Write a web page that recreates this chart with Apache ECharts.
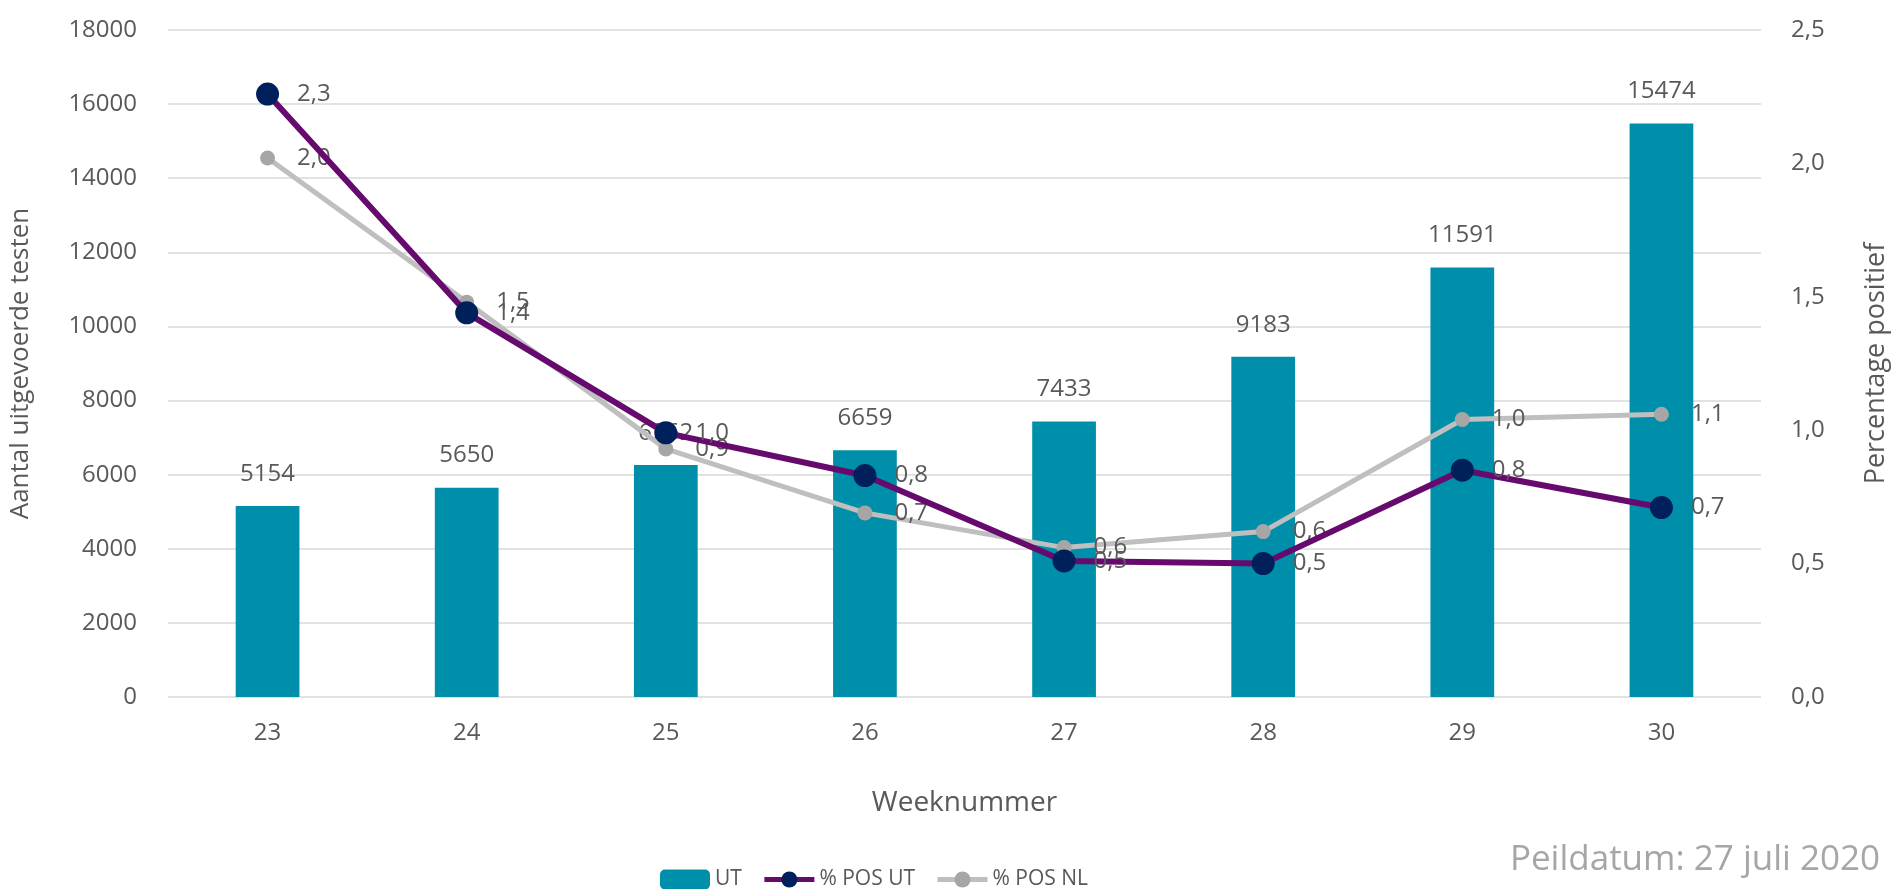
<!DOCTYPE html>
<html>
<head>
<meta charset="utf-8">
<title>Testen UT</title>
<script src="https://cdn.jsdelivr.net/npm/echarts@6/dist/echarts.min.js"></script>
<style>
  html, body { margin: 0; padding: 0; background: #fff; }
  #chart { width: 1898px; height: 889px; }
</style>
</head>
<body>
<div id="chart"></div>
<script>
// weeknummers en waarden
var weken = ['23', '24', '25', '26', '27', '28', '29', '30'];
var aantalTesten = [5154, 5650, 6262, 6659, 7433, 9183, 11591, 15474];
var posUT = [2.26, 1.44, 0.99, 0.83, 0.51, 0.50, 0.85, 0.71];
var posNL = [2.02, 1.48, 0.93, 0.69, 0.56, 0.62, 1.04, 1.06];

var tekstKleur = '#595959';
var lettertype = '"Open Sans", "Noto Sans", sans-serif';

function komma(v) {
  return Number(v).toFixed(1).replace('.', ',');
}

var chart = echarts.init(document.getElementById('chart'));

var option = {
  backgroundColor: '#fff',
  textStyle: { fontFamily: lettertype, color: tekstKleur },
  animation: false,
  grid: { left: 161, right: 120, top: 30, bottom: 192 },
  legend: {
    left: 655,
    top: 864,
    itemWidth: 50,
    itemHeight: 20,
    itemGap: 20,
    lineStyle: { width: 5 },
    textStyle: { fontSize: 21, color: tekstKleur, fontFamily: lettertype },
    data: ['UT', '% POS UT', '% POS NL']
  },
  graphic: [{
    type: 'text',
    right: 18,
    top: 843,
    style: {
      text: 'Peildatum: 27 juli 2020',
      fontSize: 35,
      fontFamily: lettertype,
      fill: '#a6a6a6'
    }
  }],
  xAxis: {
    type: 'category',
    data: weken,
    name: 'Weeknummer',
    nameLocation: 'middle',
    nameGap: 92,
    nameTextStyle: { fontSize: 28, color: tekstKleur },
    axisLine: { show: false },
    axisTick: { show: false },
    axisLabel: { fontSize: 24, color: tekstKleur, margin: 24 }
  },
  yAxis: [
    {
      type: 'value',
      min: 0,
      max: 18000,
      interval: 2000,
      name: 'Aantal uitgevoerde testen',
      nameLocation: 'middle',
      nameGap: 134,
      nameRotate: 90,
      nameTextStyle: { fontSize: 26, color: tekstKleur },
      axisLine: { show: false },
      axisTick: { show: false },
      axisLabel: {
        fontSize: 24,
        color: tekstKleur,
        margin: 31,
        formatter: function (v) { return String(v); }
      },
      splitLine: { lineStyle: { color: '#d9d9d9', width: 1.5 } }
    },
    {
      type: 'value',
      min: 0,
      max: 2.5,
      interval: 0.5,
      name: 'Percentage positief',
      nameLocation: 'middle',
      nameGap: 102,
      nameRotate: 90,
      nameTextStyle: { fontSize: 27, color: tekstKleur },
      axisLine: { show: false },
      axisTick: { show: false },
      axisLabel: { fontSize: 24, color: tekstKleur, margin: 30, formatter: komma },
      splitLine: { show: false }
    }
  ],
  series: [
    {
      name: 'UT',
      type: 'bar',
      data: aantalTesten,
      barWidth: '32%',
      itemStyle: { color: '#008fab' },
      label: {
        show: true,
        position: 'top',
        distance: 20,
        fontSize: 24,
        color: tekstKleur
      },
      z: 1
    },
    {
      name: '% POS NL',
      type: 'line',
      yAxisIndex: 1,
      data: posNL,
      symbol: 'circle',
      symbolSize: 15,
      lineStyle: { color: '#bfbfbf', width: 5 },
      itemStyle: { color: '#a6a6a6' },
      label: {
        show: true,
        position: 'right',
        distance: 22,
        fontSize: 24,
        color: tekstKleur,
        formatter: function (p) { return komma(p.value); }
      },
      z: 3
    },
    {
      name: '% POS UT',
      type: 'line',
      yAxisIndex: 1,
      data: posUT,
      symbol: 'circle',
      symbolSize: 23,
      lineStyle: { color: '#660a6e', width: 6 },
      itemStyle: { color: '#00205b' },
      label: {
        show: true,
        position: 'right',
        distance: 18,
        fontSize: 24,
        color: tekstKleur,
        formatter: function (p) { return komma(p.value); }
      },
      z: 4
    }
  ]
};

chart.setOption(option);
</script>
</body>
</html>
